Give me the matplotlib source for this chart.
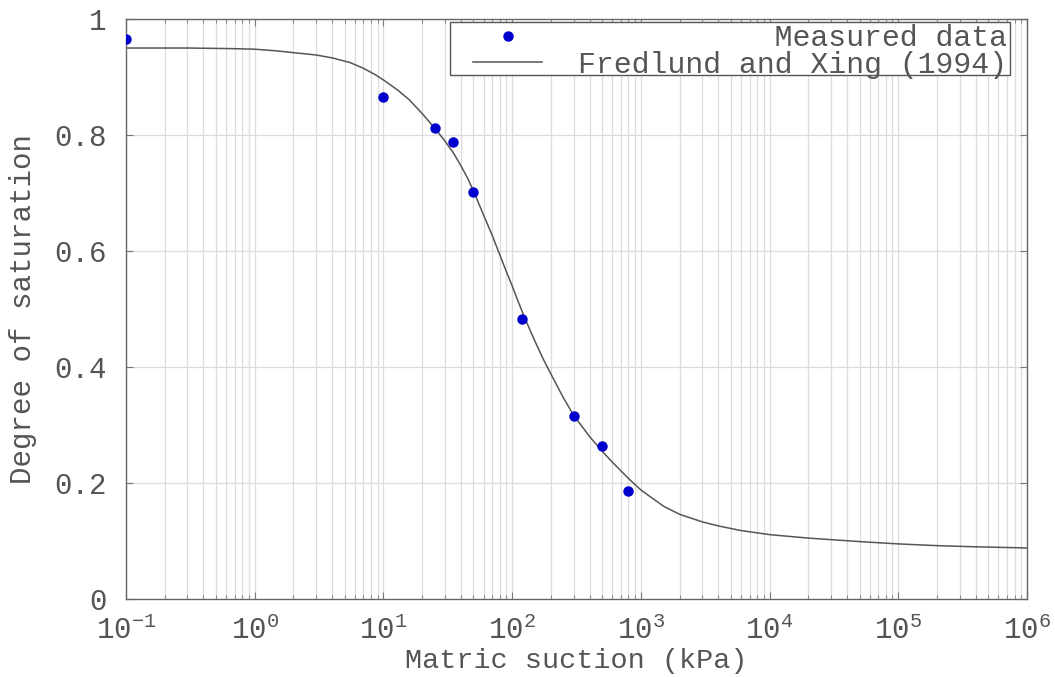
import matplotlib.pyplot as plt
from matplotlib.patches import Rectangle
from matplotlib.ticker import LogLocator, NullFormatter

# measured points
suction = [0.1, 10, 25, 35, 50, 120, 300, 500, 800]
saturation = [0.965, 0.866, 0.812, 0.788, 0.702, 0.483, 0.315, 0.263, 0.187]

# fitted curve, read at selected suction values
fit_suction = [0.1, 0.3, 0.65, 1, 1.5, 2, 3, 4, 5.5, 7, 8.5, 10, 13, 16, 20,
               25, 30, 35, 40, 45, 50, 60, 70, 80, 90, 100, 110, 120, 135, 150,
               175, 200, 250, 300, 400, 500, 600, 800, 1000, 1500, 2000, 3000,
               4000, 6000, 1e4, 2e4, 5e4, 1e5, 2e5, 4e5, 1e6]
fit_saturation = [0.950, 0.950, 0.949, 0.948, 0.945, 0.942, 0.938, 0.933, 0.925,
                  0.915, 0.905, 0.895, 0.877, 0.860, 0.837, 0.812, 0.790, 0.769,
                  0.747, 0.726, 0.704, 0.662, 0.627, 0.594, 0.565, 0.540, 0.516,
                  0.495, 0.468, 0.445, 0.413, 0.388, 0.347, 0.317, 0.280, 0.255,
                  0.236, 0.208, 0.188, 0.160, 0.146, 0.133, 0.126, 0.118, 0.111,
                  0.105, 0.099, 0.095, 0.092, 0.090, 0.088]

x_ticks = [1e-1, 1e0, 1e1, 1e2, 1e3, 1e4, 1e5, 1e6]
y_ticks = [0, 0.2, 0.4, 0.6, 0.8, 1]
y_tick_labels = ['0', '0.2', '0.4', '0.6', '0.8', '1']

TEXT_COLOR = '#555555'

plt.rcParams['font.family'] = ['Liberation Mono', 'DejaVu Sans Mono']
plt.rcParams['font.size'] = 21
plt.rcParams['text.color'] = TEXT_COLOR
plt.rcParams['axes.labelcolor'] = TEXT_COLOR

fig = plt.figure(figsize=(10.55, 6.77), dpi=100)
ax = fig.add_axes([0.1194, 0.1152, 0.8541, 0.8567])

ax.plot(suction, saturation, 'o', color='#0000cc', markersize=6.5,
        label='           Measured data', zorder=3)
ax.plot(fit_suction, fit_saturation, '-', color='#555555', lw=1.1,
        label='Fredlund and Xing (1994)', zorder=2)

ax.set_xscale('log')
ax.set_xlim(0.1, 1e6)
ax.set_ylim(0, 1)
ax.set_xticks(x_ticks)
ax.set_yticks(y_ticks)
ax.set_yticklabels(y_tick_labels)
ax.xaxis.set_minor_locator(LogLocator(base=10, subs=range(2, 10), numticks=100))
ax.xaxis.set_minor_formatter(NullFormatter())

ax.grid(True, which='both', axis='x', color='#dcdcdc', lw=0.9)
ax.grid(True, which='major', axis='y', color='#dcdcdc', lw=0.9)
ax.set_axisbelow(True)

ax.tick_params(which='both', direction='in', top=True, right=True,
               colors='#777777', labelcolor=TEXT_COLOR, labelsize=21)
ax.tick_params(which='major', length=5, width=0.8)
ax.tick_params(which='minor', length=3, width=0.6)
ax.tick_params(axis='x', pad=12)
ax.tick_params(axis='y', pad=14)
for spine in ax.spines.values():
    spine.set_color('#666666')
    spine.set_linewidth(1.0)

ax.set_xlabel('Matric suction (kPa)', fontsize=20.5, labelpad=2)
ax.set_ylabel('Degree of saturation', labelpad=12)

# legend entries without their own frame; the box is drawn separately
leg = ax.legend(loc='upper right', bbox_to_anchor=(0.981, 0.996), fontsize=21.5,
                frameon=False, handlelength=2.3, borderpad=0.1,
                labelspacing=-0.05, handletextpad=1.2, borderaxespad=0.0)
for t in leg.get_texts():
    t.set_color(TEXT_COLOR)
ax.add_patch(Rectangle((0.3596, 0.903), 0.6214, 0.092, transform=ax.transAxes,
                       facecolor='white', edgecolor='#555555', lw=1.0,
                       zorder=4))
leg.set_zorder(5)

fig.savefig('out.png', dpi=100)
